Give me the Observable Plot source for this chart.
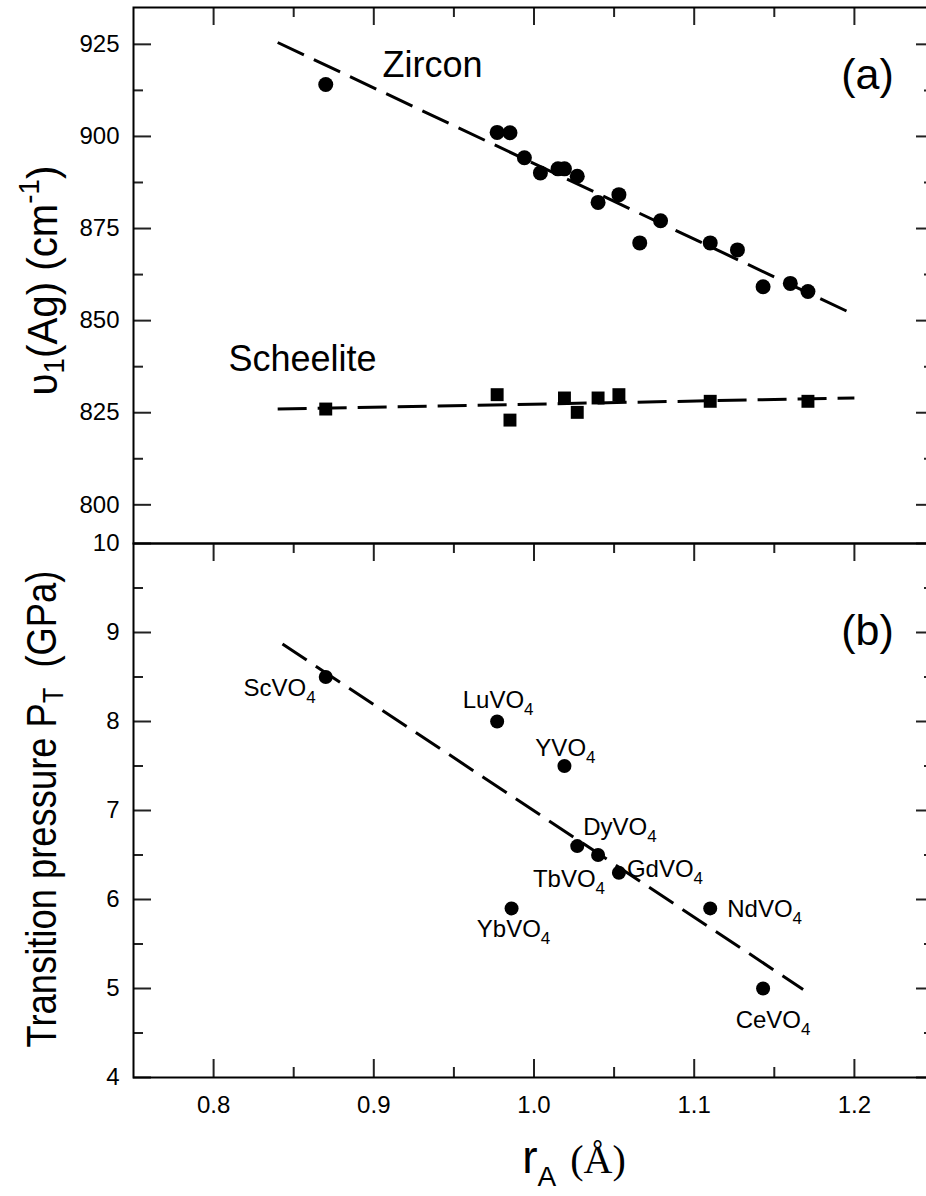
<!DOCTYPE html>
<html>
<head>
<meta charset="utf-8">
<script src="https://cdn.jsdelivr.net/npm/d3@7"></script>
<script src="https://cdn.jsdelivr.net/npm/@observablehq/plot@0.6"></script>
<style>
  html, body { margin: 0; padding: 0; background: #fff; overflow: hidden; }
  #chart { position: relative; width: 926px; height: 1196px; overflow: hidden; background: #fff; }
  #chart svg { display: block; }
</style>
</head>
<body>
<div id="chart"></div>
<script>
// ---------------- data ----------------
const zirconR  = [0.870, 0.977, 0.985, 0.994, 1.004, 1.015, 1.019, 1.027, 1.040, 1.053, 1.066, 1.079, 1.110, 1.127, 1.143, 1.160, 1.171];
const zirconNu = [914.1, 901.1, 901.0, 894.2, 890.1, 891.2, 891.2, 889.2, 882.1, 884.2, 871.1, 877.1, 871.1, 869.2, 859.2, 860.1, 857.9];

const scheeliteR  = [0.870, 0.977, 0.985, 1.019, 1.027, 1.040, 1.053, 1.110, 1.171];
const scheeliteNu = [826.0, 829.9, 823.0, 829.0, 825.1, 829.0, 829.9, 828.1, 828.1];

const zirconFitR  = [0.840, 1.200];
const zirconFitNu = [925.5, 851.6];
const scheeliteFitR  = [0.840, 1.200];
const scheeliteFitNu = [826.0, 829.0];

const compounds   = ["ScVO4", "LuVO4", "YVO4", "DyVO4", "TbVO4", "GdVO4", "YbVO4", "NdVO4", "CeVO4"];
const compoundR   = [0.870, 0.977, 1.019, 1.027, 1.040, 1.053, 0.986, 1.110, 1.143];
const transitionP = [8.5, 8.0, 7.5, 6.6, 6.5, 6.3, 5.9, 5.9, 5.0];

const pressureFitR = [0.843, 1.168];
const pressureFitP = [8.87, 4.99];

const xTicks      = [0.8, 0.9, 1.0, 1.1, 1.2];
const xTickLabels = ["0.8", "0.9", "1.0", "1.1", "1.2"];
const xMinorTicks = [0.85, 0.95, 1.05, 1.15];
const nuTicks      = [800, 825, 850, 875, 900, 925];
const nuTickLabels = ["800", "825", "850", "875", "900", "925"];
const nuMinorTicks = [812.5, 837.5, 862.5, 887.5, 912.5];
const pTicks      = [4, 5, 6, 7, 8, 9, 10];
const pTickLabels = ["4", "5", "6", "7", "8", "9", "10"];
const pMinorTicks = [4.5, 5.5, 6.5, 7.5, 8.5, 9.5];

const xDomain  = [0.75, 1.25];
const nuDomain = [789.5, 935];
const pDomain  = [4, 10];

const seriesLabels = ["Zircon", "Scheelite"];
const panelLabels  = ["(a)", "(b)"];
const yLabelA = "υ1(Ag) (cm-1)";
const yLabelB = "Transition pressure PT  (GPa)";
const xLabel  = "rA (Å)";

// ---------------- layout (not data) ----------------
const L = { width: 934, left: 133, topA: 7, heightA: 543, heightB: 653, bottomB: 119 };
const frameW  = L.width - L.left;
const frameHA = L.heightA - L.topA;
const frameHB = L.heightB - L.bottomB;
const MAJOR = 18, MINOR = 10;
const TICKFONT = 24;
const sans = "'Liberation Sans', Arial, Helvetica, sans-serif";
const serif = "'Liberation Serif', 'Times New Roman', serif";

const labelPlacement = {
  ScVO4: {anchor: "end",    dx: -10, dy: 19},
  LuVO4: {anchor: "middle", dx: 1,   dy: -14},
  YVO4:  {anchor: "middle", dx: 1,   dy: -10},
  DyVO4: {anchor: "start",  dx: 6,   dy: -11},
  TbVO4: {anchor: "end",    dx: 7,   dy: 32},
  GdVO4: {anchor: "start",  dx: 8,   dy: 4},
  YbVO4: {anchor: "middle", dx: 2,   dy: 29},
  NdVO4: {anchor: "start",  dx: 17,  dy: 9},
  CeVO4: {anchor: "middle", dx: 10,  dy: 39}
};

// ---------------- helpers ----------------
const zircon = zirconR.map((r, i) => ({r, nu: zirconNu[i]}));
const scheelite = scheeliteR.map((r, i) => ({r, nu: scheeliteNu[i]}));
const zirconFit = zirconFitR.map((r, i) => ({r, nu: zirconFitNu[i]}));
const scheeliteFit = scheeliteFitR.map((r, i) => ({r, nu: scheeliteFitNu[i]}));
const vanadates = compounds.map((name, i) => ({name, r: compoundR[i], p: transitionP[i]}));
const pressureFit = pressureFitR.map((r, i) => ({r, p: pressureFitP[i]}));

const tickStyle = {stroke: "#222", strokeWidth: 2};
function frameTicks(yMajor, yMinor, frameH, top, bottom) {
  const m = [];
  if (top) {
    m.push(Plot.ruleX(xTicks, {...tickStyle, insetBottom: frameH - MAJOR}));
    m.push(Plot.ruleX(xMinorTicks, {...tickStyle, insetBottom: frameH - MINOR}));
  }
  if (bottom) {
    m.push(Plot.ruleX(xTicks, {...tickStyle, insetTop: frameH - MAJOR}));
    m.push(Plot.ruleX(xMinorTicks, {...tickStyle, insetTop: frameH - MINOR}));
  }
  m.push(Plot.ruleY(yMajor, {...tickStyle, insetRight: frameW - MAJOR}));
  m.push(Plot.ruleY(yMinor, {...tickStyle, insetRight: frameW - MINOR}));
  m.push(Plot.ruleY(yMajor, {...tickStyle, insetLeft: frameW - MAJOR}));
  m.push(Plot.ruleY(yMinor, {...tickStyle, insetLeft: frameW - MINOR}));
  return m;
}
const dash = {stroke: "#000", strokeWidth: 3, strokeDasharray: "29,11", strokeLinecap: "butt"};
const baseStyle = {fontFamily: sans, maxWidth: "none", overflow: "visible", background: "transparent", color: "#000"};

// ---------------- panel (a) ----------------
const svgA = Plot.plot({
  width: L.width, height: L.heightA,
  marginLeft: L.left, marginRight: 0, marginTop: L.topA, marginBottom: 0,
  style: baseStyle,
  x: {domain: xDomain, axis: null},
  y: {domain: nuDomain},
  marks: [
    ...frameTicks(nuTicks, nuMinorTicks, frameHA, true, false),
    Plot.axisY(nuTicks, {anchor: "left", tickSize: 0, tickPadding: 14, fontSize: TICKFONT, label: null,
      tickFormat: d => nuTickLabels[nuTicks.indexOf(d)]}),
    Plot.line(zirconFit, {x: "r", y: "nu", ...dash}),
    Plot.line(scheeliteFit, {x: "r", y: "nu", ...dash}),
    Plot.dot(zircon, {x: "r", y: "nu", r: 7.5, fill: "#000", stroke: "none"}),
    Plot.dot(scheelite, {x: "r", y: "nu", r: 7.3, symbol: "square", fill: "#000", stroke: "none"}),
    Plot.text([seriesLabels[0]], {frameAnchor: "top-left", dx: 249, dy: 69, textAnchor: "start", lineAnchor: "bottom", fontSize: 36, fill: "#000"}),
    Plot.text([seriesLabels[1]], {frameAnchor: "top-left", dx: 95, dy: 363, textAnchor: "start", lineAnchor: "bottom", fontSize: 36, fill: "#000"}),
    Plot.text([panelLabels[0]], {frameAnchor: "top-right", dx: -67, dy: 81, textAnchor: "middle", lineAnchor: "bottom", fontSize: 43, fill: "#000"}),
    Plot.text([yLabelA], {frameAnchor: "left", dx: 56 - L.left, dy: 5, rotate: -90, textAnchor: "middle", lineAnchor: "bottom", fontSize: 42, fill: "#000"}),
    Plot.frame({stroke: "#000", strokeWidth: 2})
  ]
});

// ---------------- panel (b) ----------------
const svgB = Plot.plot({
  width: L.width, height: L.heightB,
  marginLeft: L.left, marginRight: 0, marginTop: 0, marginBottom: L.bottomB,
  style: baseStyle,
  x: {domain: xDomain},
  y: {domain: pDomain},
  marks: [
    ...frameTicks(pTicks, pMinorTicks, frameHB, true, true),
    Plot.axisY(pTicks, {anchor: "left", tickSize: 0, tickPadding: 14, fontSize: TICKFONT, label: null,
      tickFormat: d => pTickLabels[pTicks.indexOf(d)]}),
    Plot.axisX(xTicks, {anchor: "bottom", tickSize: 0, tickPadding: 18, fontSize: TICKFONT, label: null,
      tickFormat: d => xTickLabels[xTicks.indexOf(d)]}),
    Plot.line(pressureFit, {x: "r", y: "p", ...dash}),
    Plot.dot(vanadates, {x: "r", y: "p", r: 7, fill: "#000", stroke: "none"}),
    ...vanadates.map(d => {
      const pl = labelPlacement[d.name];
      return Plot.text([d], {x: "r", y: "p", text: "name", textAnchor: pl.anchor, dx: pl.dx, dy: pl.dy,
        lineAnchor: "bottom", fontSize: 24, fill: "#000"});
    }),
    Plot.text([panelLabels[1]], {frameAnchor: "top-right", dx: -67, dy: 101, textAnchor: "middle", lineAnchor: "bottom", fontSize: 43, fill: "#000"}),
    Plot.text([yLabelB], {frameAnchor: "left", dx: 55 - L.left, dy: -1.5, rotate: -90, textAnchor: "middle", lineAnchor: "bottom", fontSize: 42, fill: "#000"}),
    Plot.text([xLabel], {frameAnchor: "bottom", dx: 40, dy: 95, textAnchor: "middle", lineAnchor: "bottom", fontSize: 44, fill: "#000"}),
    Plot.frame({stroke: "#000", strokeWidth: 2})
  ]
});

const chart = document.getElementById("chart");
chart.append(svgA, svgB);

// ---------------- rich text (sub/superscripts) ----------------
function rich(svg, key, parts, targetLength) {
  d3.select(svg).selectAll("text").filter(function () { return this.textContent === key; }).each(function () {
    const t = d3.select(this);
    t.text(null);
    parts.forEach(p => {
      const s = t.append("tspan").text(p.t);
      if (p.size) s.attr("font-size", p.size);
      if (p.dy) s.attr("dy", p.dy);
      if (p.dx) s.attr("dx", p.dx);
      if (p.family) s.attr("font-family", p.family);
    });
    if (targetLength) {
      const w = this.getBBox().width;
      const tr = this.getAttribute("transform") || "";
      if (w > 0) this.setAttribute("transform", tr + ` scale(${targetLength / w},1)`);
    }
  });
}
compounds.forEach(name => {
  rich(svgB, name, [{t: name.slice(0, -1)}, {t: "4", size: 17, dy: 7}]);
});
rich(svgA, yLabelA, [
  {t: "υ"}, {t: "1", size: 29, dy: 7}, {t: "(Ag) (cm", dy: -7}, {t: "-1", size: 29, dy: -18}, {t: ")", dy: 18}
], 230);
rich(svgB, yLabelB, [
  {t: "Transition pressure P"}, {t: "T", size: 29, dy: 7}, {t: "  (GPa)", dy: -7}
], 477);
rich(svgB, xLabel, [
  {t: "r", size: 46}, {t: "A", size: 28, dy: 13}, {t: "(Å)", size: 40, dy: -13, dx: 14, family: serif}
]);
</script>
</body>
</html>
